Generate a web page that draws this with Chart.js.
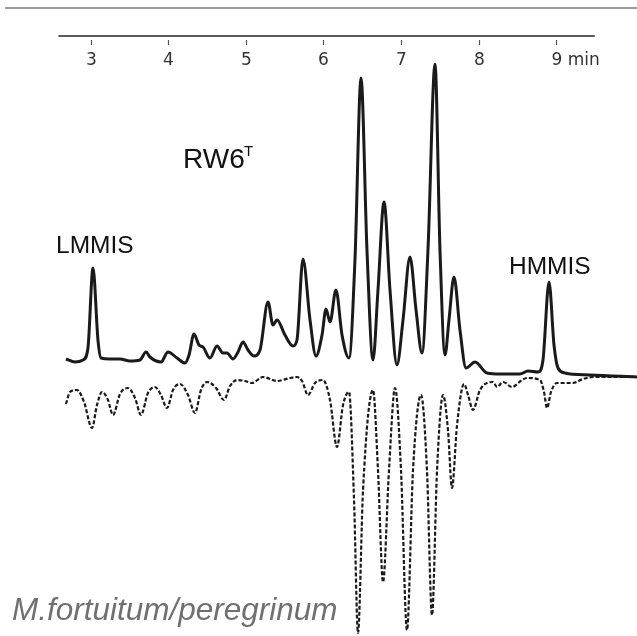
<!DOCTYPE html>
<html>
<head>
<meta charset="utf-8">
<script src="https://cdn.jsdelivr.net/npm/chart.js@4/dist/chart.umd.min.js"></script>
<style>
  html, body { margin: 0; padding: 0; background: #fff; }
  #wrap { width: 637px; height: 636px; position: relative; }
</style>
</head>
<body>
<div id="wrap"><canvas id="chart-area"></canvas></div>
<script>
// время удерживания, мин (верхняя хроматограмма RW6T)
var sampleTime = [2.677, 2.794, 2.897, 2.961, 3.026, 3.090, 3.129, 3.245, 3.374, 3.503, 3.632, 3.710, 3.761, 3.903, 3.994, 4.110,
    4.213, 4.265, 4.329, 4.394, 4.445, 4.535, 4.626, 4.703, 4.755, 4.832, 4.897, 4.961, 5.026, 5.103, 5.181, 5.284,
    5.348, 5.400, 5.503, 5.606, 5.658, 5.735, 5.826, 5.903, 5.981, 6.032, 6.084, 6.161, 6.239, 6.329, 6.406, 6.484,
    6.561, 6.639, 6.703, 6.781, 6.858, 6.948, 7.026, 7.116, 7.194, 7.271, 7.348, 7.439, 7.503, 7.568, 7.619, 7.684,
    7.761, 7.839, 7.955, 8.110, 8.277, 8.535, 8.639, 8.768, 8.832, 8.910, 8.974, 9.026, 9.116, 9.439, 10.045];
// сигнал образца
var sampleSignal = [16, 13, 15, 27, 107, 35, 17, 16, 16, 14, 15, 23, 18, 13, 23, 17,
    12, 20, 41, 30, 28, 17, 29, 22, 22, 16, 23, 33, 25, 19, 25, 73,
    50, 55, 40, 29, 35, 116, 55, 19, 40, 66, 53, 85, 40, 17, 115, 297,
    125, 15, 85, 173, 85, 10, 55, 118, 65, 22, 125, 311, 125, 20, 55, 98,
    45, 7, 13, 2, 1, 1, 4, 3, 15, 93, 30, 7, 2, 0, -2];

// нижняя (зеркальная) хроматограмма библиотечного профиля
var refTime = [2.677, 2.729, 2.819, 2.910, 3.013, 3.077, 3.142, 3.219, 3.284, 3.374, 3.477, 3.568, 3.645, 3.735, 3.826, 3.903,
    3.981, 4.058, 4.148, 4.252, 4.342, 4.419, 4.497, 4.613, 4.716, 4.794, 4.884, 4.987, 5.077, 5.219, 5.400, 5.568,
    5.658, 5.723, 5.800, 5.890, 5.994, 6.084, 6.174, 6.252, 6.329, 6.394, 6.445, 6.510, 6.639, 6.703, 6.768, 6.845,
    6.923, 7.000, 7.077, 7.155, 7.258, 7.335, 7.400, 7.465, 7.542, 7.606, 7.658, 7.723, 7.813, 7.865, 7.929, 8.019,
    8.187, 8.239, 8.316, 8.432, 8.561, 8.626, 8.794, 8.845, 8.884, 8.935, 9.013, 9.219, 9.348, 9.477, 10.045];
var refSignal = [-29, -17, -15, -27, -53, -30, -17, -25, -40, -19, -13, -23, -40, -18, -12, -20,
    -33, -15, -9, -20, -38, -15, -7, -13, -25, -11, -5, -6, -8, -2, -6, -3,
    -2, -6, -20, -8, -5, -25, -72, -30, -17, -125, -258, -115, -15, -95, -207, -95,
    -13, -95, -255, -95, -20, -95, -240, -95, -20, -55, -113, -50, -9, -20, -35, -15,
    -7, -12, -7, -12, -5, -3, -5, -17, -33, -17, -8, -8, -4, -2, -2];

// подписи оси времени
var tickValues = [3, 4, 5, 6, 7, 8, 9];
var tickLabels = ['3', '4', '5', '6', '7', '8', '9 min'];

function toPoints(xs, ys) {
    return xs.map(function (x, i) { return { x: x, y: ys[i] }; });
}

// ось времени сверху и подписи рисуем сами по шкале графика
var overlay = {
    id: 'overlay',
    afterDraw: function (chart) {
        var ctx = chart.ctx;
        var xs = chart.scales.x;
        ctx.save();
        // серая линия вверху
        ctx.strokeStyle = '#9a9a9a';
        ctx.lineWidth = 2;
        ctx.beginPath();
        ctx.moveTo(5, 8);
        ctx.lineTo(637, 8);
        ctx.stroke();
        // линия оси
        ctx.strokeStyle = '#222';
        ctx.lineWidth = 1.5;
        ctx.beginPath();
        ctx.moveTo(xs.getPixelForValue(2.58), 36);
        ctx.lineTo(xs.getPixelForValue(9.5), 36);
        ctx.stroke();
        ctx.fillStyle = '#333';
        ctx.font = '17px "DejaVu Sans", sans-serif';
        ctx.textBaseline = 'middle';
        tickValues.forEach(function (v, i) {
            var px = Math.round(xs.getPixelForValue(v)) + 0.5;
            ctx.strokeStyle = '#555';
            ctx.lineWidth = 1.2;
            ctx.beginPath();
            ctx.moveTo(px, 40);
            ctx.lineTo(px, 45);
            ctx.stroke();
            var last = i === tickLabels.length - 1;
            ctx.textAlign = last ? 'left' : 'center';
            ctx.fillText(tickLabels[i], last ? px - 5 : px, 61);
        });
        // текстовые подписи
        ctx.fillStyle = '#111';
        ctx.textAlign = 'left';
        ctx.textBaseline = 'alphabetic';
        ctx.font = '28px "Liberation Sans", Arial, sans-serif';
        ctx.fillText('RW6', 183, 168);
        ctx.font = '15px "Liberation Sans", Arial, sans-serif';
        ctx.fillText('T', 244, 156);
        ctx.font = '24.5px "Liberation Sans", Arial, sans-serif';
        ctx.fillText('LMMIS', 56, 253);
        ctx.fillText('HMMIS', 509, 274);
        ctx.fillStyle = '#707070';
        ctx.font = 'italic 31.5px "Liberation Sans", Arial, sans-serif';
        ctx.fillText('M.fortuitum/peregrinum', 12, 620);
        ctx.restore();
    }
};

var config = {
    type: 'line',
    data: {
        datasets: [{
            label: 'RW6T',
            data: toPoints(sampleTime, sampleSignal),
            borderColor: '#1a1a1a',
            borderWidth: 3,
            pointRadius: 0,
            cubicInterpolationMode: 'monotone',
            fill: false
        }, {
            label: 'M.fortuitum/peregrinum',
            data: toPoints(refTime, refSignal),
            borderColor: '#1a1a1a',
            borderWidth: 2.2,
            borderDash: [4, 2],
            pointRadius: 0,
            cubicInterpolationMode: 'monotone',
            fill: false
        }]
    },
    options: {
        responsive: true,
        maintainAspectRatio: false,
        animation: false,
        layout: { padding: 0 },
        plugins: {
            legend: { display: false },
            tooltip: { enabled: false }
        },
        scales: {
            x: { type: 'linear', min: 1.826, max: 10.045, display: false },
            y: { min: -261, max: 375, display: false }
        }
    },
    plugins: [overlay]
};

var ctx = document.getElementById('chart-area').getContext('2d');
window.myChart = new Chart(ctx, config);
</script>
</body>
</html>
